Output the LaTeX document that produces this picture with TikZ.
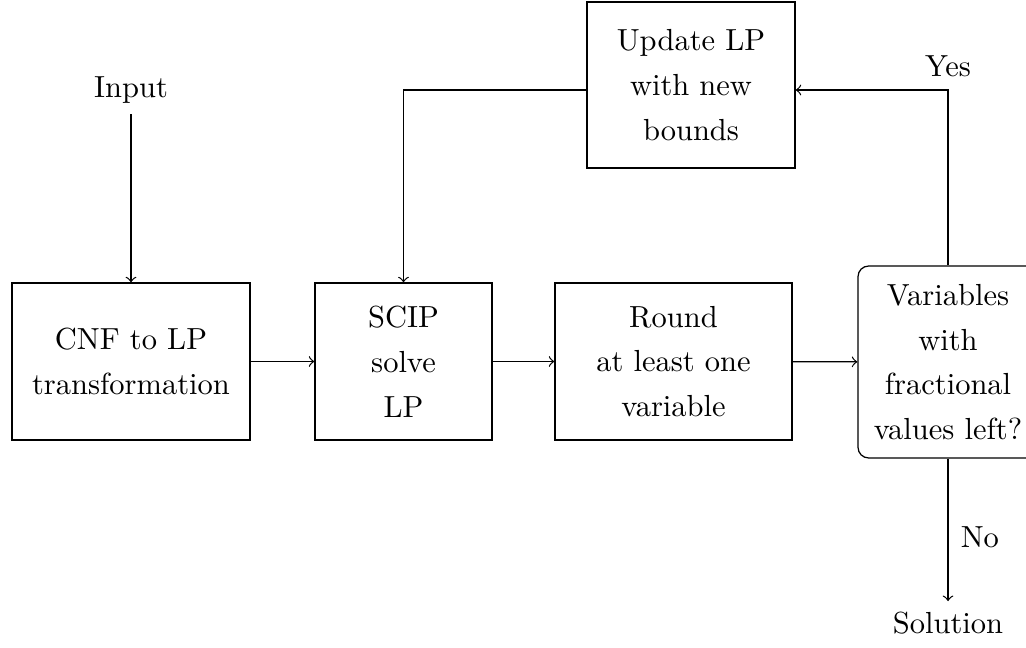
\documentclass[tikz,border=0pt]{standalone}
\newdimen\pxu \pxu=0.3279pt
\begin{document}
\begin{tikzpicture}[x=\pxu,y=-\pxu,
  every node/.style={font=\fontsize{10}{14.7}\selectfont, align=center},
  box/.style={draw, inner sep=0pt},
  rbox/.style={draw, rounded corners=3.5pt, inner sep=0pt},
  arr/.style={->}]
\useasboundingbox (0,0) rectangle (1026,648);
\node[box, minimum width=238\pxu, minimum height=157\pxu] (cnf) at (131,361.5) {CNF to LP\\transformation};
\node[box, minimum width=177\pxu, minimum height=157\pxu] (scip) at (403.5,361.5) {SCIP\\solve\\LP};
\node[box, minimum width=237\pxu, minimum height=157\pxu] (round) at (673.5,361.5) {Round\\at least one\\variable};
\node[rbox, minimum width=180\pxu, minimum height=192\pxu] (var) at (948,362) {Variables\\with\\fractional\\values left?};
\node[box, minimum width=208\pxu, minimum height=166\pxu] (upd) at (691,85) {Update LP\\with new\\bounds};
\node (input) at (131,90) {Input};
\node (sol) at (948,623) {Solution};
\coordinate (c1) at (948,90);
\coordinate (c2) at (403.5,90);
\node[anchor=south, inner sep=4pt] (yes) at (c1) {Yes};
\draw[arr] (input) -- (cnf);
\draw[arr] (cnf) -- (scip);
\draw[arr] (scip) -- (round);
\draw[arr] (round) -- (var);
\draw[arr] (var.north) -- (c1) -- (upd.east |- c1);
\draw[arr] (upd.west |- c2) -- (c2) -- (scip.north);
\draw[arr] (var.south) -- (sol) node[pos=0.55, right, xshift=2\pxu] {No};
\end{tikzpicture}
\end{document}
